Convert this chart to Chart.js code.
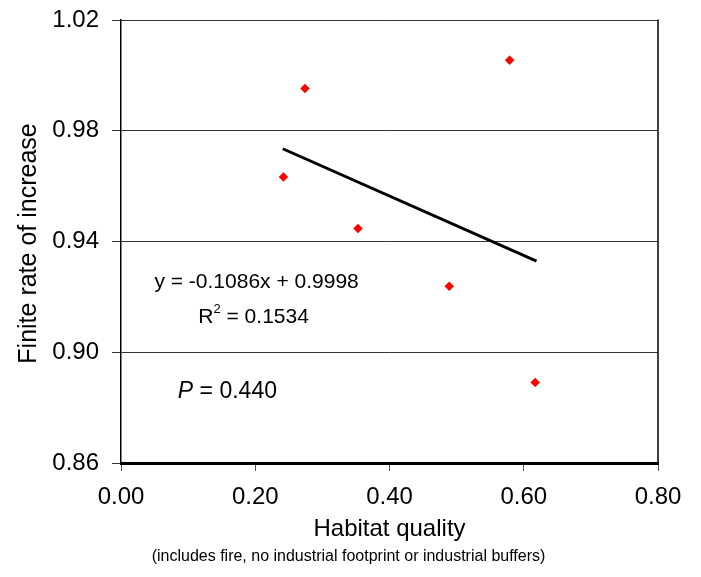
<!DOCTYPE html>
<html>
<head>
<meta charset="utf-8">
<script src="https://cdn.jsdelivr.net/npm/chart.js@4"></script>
<style>
  html, body { margin: 0; padding: 0; background: #fff; }
  #wrap { width: 701px; height: 577px; position: relative; }
</style>
</head>
<body>
<div id="wrap"><canvas id="c" width="701" height="577"></canvas></div>
<script>
// ---- data ----
const habitatQuality = [0.274, 0.579, 0.242, 0.353, 0.489, 0.617];
const finiteRate     = [0.9953, 1.0055, 0.9633, 0.9447, 0.9238, 0.8891];
const trendX = [0.241, 0.619];
const trendY = [0.9735, 0.9329];
const xTicks = [0.00, 0.20, 0.40, 0.60, 0.80];
const yTicks = [0.86, 0.90, 0.94, 0.98, 1.02];
const xTitle = 'Habitat quality';
const xSubtitle = '(includes fire, no industrial footprint or industrial buffers)';
const yTitle = 'Finite rate of increase';
const eqText = 'y = -0.1086x + 0.9998';
const r2Value = '0.1534';
const pValue = '0.440';

const FONT = "'Liberation Sans', Arial, sans-serif";

const points = habitatQuality.map((x, i) => ({ x: x, y: finiteRate[i] }));
const trend = trendX.map((x, i) => ({ x: x, y: trendY[i] }));

const decor = {
  id: 'decor',
  afterDraw(chart) {
    const ctx = chart.ctx;
    const a = chart.chartArea;
    const xs = chart.scales.x, ys = chart.scales.y;
    ctx.save();
    // right border of plot frame
    ctx.strokeStyle = '#000';
    ctx.lineWidth = 1.5;
    ctx.beginPath();
    ctx.moveTo(a.right, a.top - 0.5);
    ctx.lineTo(a.right, a.bottom);
    ctx.stroke();
    ctx.fillStyle = '#000';
    // axis titles
    ctx.textAlign = 'center';
    ctx.textBaseline = 'alphabetic';
    ctx.font = '24px ' + FONT;
    ctx.fillText(xTitle, (a.left + a.right) / 2, 536);
    ctx.font = '16px ' + FONT;
    ctx.fillText(xSubtitle, (a.left + a.right) / 2 - 41, 561);
    ctx.save();
    ctx.translate(36, (a.top + a.bottom) / 2 + 2);
    ctx.rotate(-Math.PI / 2);
    ctx.font = '25px ' + FONT;
    ctx.fillText(yTitle, 0, 0);
    ctx.restore();
    // annotations (placed in data coordinates)
    ctx.font = '21px ' + FONT;
    ctx.textAlign = 'center';
    ctx.fillText(eqText, xs.getPixelForValue(0.202), ys.getPixelForValue(0.9231));
    // R^2 line with superscript
    const rx = xs.getPixelForValue(0.1975), ry = ys.getPixelForValue(0.9104);
    const partR = 'R', partRest = ' = ' + r2Value;
    ctx.font = '21px ' + FONT;
    const wR = ctx.measureText(partR).width;
    const wRest = ctx.measureText(partRest).width;
    ctx.font = '13px ' + FONT;
    const wSup = ctx.measureText('2').width;
    const total = wR + wSup + wRest;
    let cx = rx - total / 2;
    ctx.textAlign = 'left';
    ctx.font = '21px ' + FONT;
    ctx.fillText(partR, cx, ry); cx += wR;
    ctx.font = '13px ' + FONT;
    ctx.fillText('2', cx, ry - 10); cx += wSup;
    ctx.font = '21px ' + FONT;
    ctx.fillText(partRest, cx, ry);
    // P value
    const px = xs.getPixelForValue(0.0847), py = ys.getPixelForValue(0.8833);
    ctx.font = 'italic 23px ' + FONT;
    ctx.fillText('P', px, py);
    const wP = ctx.measureText('P').width;
    ctx.font = '23px ' + FONT;
    ctx.fillText(' = ' + pValue, px + wP, py);
    ctx.restore();
  }
};

new Chart(document.getElementById('c'), {
  type: 'scatter',
  data: {
    datasets: [
      {
        label: 'Observed',
        data: points,
        pointStyle: 'rectRot',
        pointRadius: 4.5,
        pointHoverRadius: 4.5,
        backgroundColor: '#ff0000',
        borderColor: '#ff0000',
        borderWidth: 0.5,
        order: 1
      },
      {
        label: 'Trend',
        data: trend,
        showLine: true,
        borderColor: '#000',
        borderWidth: 3,
        pointRadius: 0,
        fill: false,
        order: 2
      }
    ]
  },
  options: {
    responsive: false,
    animation: false,
    events: [],
    layout: { padding: { left: 0, top: 20, right: 43, bottom: 0 } },
    plugins: { legend: { display: false }, tooltip: { enabled: false }, title: { display: false } },
    scales: {
      x: {
        type: 'linear',
        min: 0, max: 0.8,
        afterBuildTicks(s) { s.ticks = xTicks.map(v => ({ value: v })); },
        afterFit(s) { s.height = 114; s.paddingLeft = 0; s.paddingRight = 0; },
        border: { display: true, color: '#000', width: 3 },
        grid: { display: true, drawOnChartArea: false, drawTicks: true, tickLength: 8, color: '#555', lineWidth: 1 },
        ticks: {
          padding: 12,
          color: '#000',
          font: { family: FONT, size: 24 },
          callback: v => Number(v).toFixed(2)
        }
      },
      y: {
        type: 'linear',
        min: 0.86, max: 1.02,
        afterBuildTicks(s) { s.ticks = yTicks.map(v => ({ value: v })); },
        afterFit(s) { s.width = 121; s.paddingTop = 0; s.paddingBottom = 0; },
        border: { display: true, color: '#000', width: 1.5 },
        grid: { display: true, drawOnChartArea: true, drawTicks: true, tickLength: 9, color: '#333', lineWidth: 1 },
        ticks: {
          padding: 13,
          color: '#000',
          font: { family: FONT, size: 24 },
          callback: v => Number(v).toFixed(2)
        }
      }
    }
  },
  plugins: [decor]
});
</script>
</body>
</html>
